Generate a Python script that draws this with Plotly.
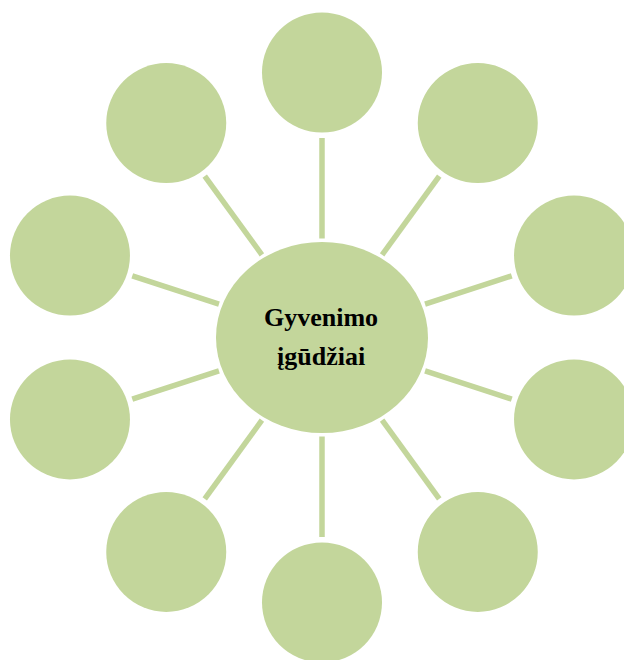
import math
import plotly.graph_objects as go

# ---- data ----
center_lines = ["Gyvenimo", "įgūdžiai"]
outer_labels = ["", "", "", "", "", "", "", "", "", ""]
outer_angles_deg = [90, 54, 18, -18, -54, -90, -126, -162, 162, 126]

# ---- geometry / style ----
W, H = 624, 660
CX, CY = 322, 337.5
RX, RY = 106, 95.5
RING = 265
R_OUT = 60
FILL = "#C3D69B"
LINE_W = 5.5
GAP_C = 3.5
GAP_O = 5.5

fig = go.Figure()
shapes = []

for ang, lab in zip(outer_angles_deg, outer_labels):
    a = math.radians(ang)
    ux, uy = math.cos(a), -math.sin(a)
    ox, oy = CX + RING * ux, CY + RING * uy
    re = 1.0 / math.sqrt((ux / RX) ** 2 + (uy / RY) ** 2)
    x0, y0 = CX + (re + GAP_C) * ux, CY + (re + GAP_C) * uy
    x1, y1 = CX + (RING - R_OUT - GAP_O) * ux, CY + (RING - R_OUT - GAP_O) * uy
    shapes.append(dict(type="line", xref="x", yref="y", x0=x0, y0=y0, x1=x1, y1=y1,
                       line=dict(color=FILL, width=LINE_W), layer="below"))
    shapes.append(dict(type="circle", xref="x", yref="y",
                       x0=ox - R_OUT, x1=ox + R_OUT, y0=oy - R_OUT, y1=oy + R_OUT,
                       fillcolor=FILL, line=dict(width=0), layer="below"))
    if lab:
        fig.add_annotation(x=ox, y=oy, text=lab, showarrow=False,
                           font=dict(family="Liberation Serif", size=16, color="black"))

shapes.append(dict(type="circle", xref="x", yref="y",
                   x0=CX - RX, x1=CX + RX, y0=CY - RY, y1=CY + RY,
                   fillcolor=FILL, line=dict(width=0), layer="below"))

line_ys = [317, 356]
for txt, ty in zip(center_lines, line_ys):
    fig.add_annotation(x=321, y=ty, text="<b>" + txt + "</b>", showarrow=False,
                       xanchor="center", yanchor="middle",
                       font=dict(family="Liberation Serif", size=26, color="black"))

fig.update_layout(
    width=W, height=H, autosize=False,
    margin=dict(l=0, r=0, t=0, b=0),
    paper_bgcolor="white", plot_bgcolor="white",
    shapes=shapes, showlegend=False,
    xaxis=dict(range=[0, W], visible=False, fixedrange=True),
    yaxis=dict(range=[H, 0], visible=False, fixedrange=True),
)
fig.write_html(
    "out.html",
    config={"displayModeBar": False},
    post_script="document.body.style.margin='0';document.body.style.padding='0';"
                "document.body.style.overflow='hidden';"
                "document.documentElement.style.overflow='hidden';",
)
